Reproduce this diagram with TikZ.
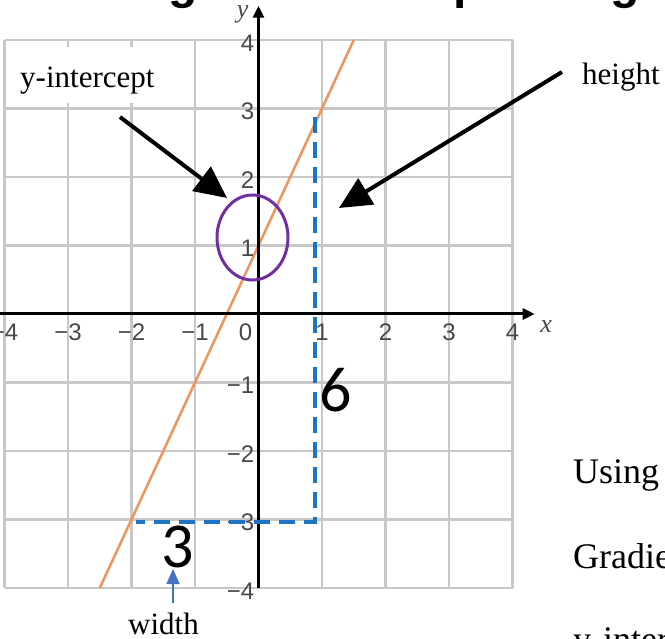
\documentclass[tikz,border=0pt]{standalone}
\usepackage{fontspec}
\setmainfont{Liberation Serif}
\newfontfamily\lsans{Liberation Sans}
\newfontfamily\carl{Carlito}
\usetikzlibrary{arrows.meta,shapes.geometric}
\definecolor{gridgray}{RGB}{200,200,200}
\definecolor{ticklab}{RGB}{72,72,72}
\definecolor{lineorange}{RGB}{238,150,90}
\definecolor{dashblue}{RGB}{30,115,195}
\definecolor{circpurple}{RGB}{112,48,160}
\definecolor{arrowblue}{RGB}{68,114,196}
\tikzset{
  ticklabel/.style={text=ticklab, font=\lsans\fontsize{24}{24}\selectfont, inner sep=0pt},
  axlabel/.style={text=ticklab, font=\itshape\fontsize{26}{26}\selectfont, inner sep=0pt},
  lbl/.style={font=\fontsize{31}{36}\selectfont, inner sep=0pt},
  rtext/.style={font=\fontsize{36}{40}\selectfont, inner sep=0pt, anchor=base west},
  bigdig/.style={font=\carl\fontsize{64}{64}\selectfont, inner sep=0pt},
  bigarrow/.style={line width=4pt, -{Triangle[length=32pt,width=30pt]}},
  dashline/.style={dashblue, line width=4pt, dash pattern=on 16pt off 9pt},
  gridline/.style={gridgray, line width=2.5pt},
}
\begin{document}
\begin{tikzpicture}[x=1pt,y=-1pt]
\useasboundingbox (0,0) rectangle (665,639);
\clip (0,0) rectangle (665,639);
\fill[white] (0,0) rectangle (665,639);
% title (cut off at top)
\node[anchor=base west, font=\lsans\bfseries\fontsize{48}{50}\selectfont, inner sep=0pt] (title) at (24,-1) {Finding the intercept and gradient};
% graph
\begin{scope}[shift={(258.5,314)},x=63.5pt,y=68.5pt]
  \foreach \k in {-4,...,4} {
    \draw[gridline] (\k,-4) -- (\k,4);
    \draw[gridline] (-4,\k) -- (4,\k);
  }
  \draw[lineorange, line width=2.5pt] (-2.5,-4) -- (1.5,4);
  \draw[line width=3pt, -{Triangle[length=12pt,width=11pt]}] (-4.1,0) -- (4.35,0);
  \draw[line width=3pt, -{Triangle[length=12pt,width=11pt]}] (0,-4) -- (0,4.5);
  \foreach \k/\t [count=\i] in {4/4,3/3,2/2,1/1,-1/−1,-2/−2,-3/−3,-4/−4}
    \node[ticklabel, anchor=east, xshift=-4pt, yshift=-3pt] (yl\i) at (0,\k) {\t};
  \foreach \k/\t [count=\i] in {-4/−4,-3/−3,-2/−2,-1/−1,1/1,2/2,3/3,4/4}
    \node[ticklabel, anchor=north, yshift=-10pt] (xl\i) at (\k,0) {\t};
  \node[ticklabel, anchor=north east, xshift=-6pt, yshift=-10pt] (xlzero) at (0,0) {0};
  \node[axlabel] (xname) at (4.53,-0.18) {x};
  \node[axlabel] (yname) at (-0.25,4.38) {y};
\end{scope}
% dashed rise/run
\coordinate (dtop) at (315,117);
\coordinate (dcorner) at (315,522);
\coordinate (dleft) at (136,522);
\draw[dashline] (dtop) -- (dcorner) -- (dleft);
% y-intercept circle
\node[draw=circpurple, line width=3pt, ellipse, minimum width=71pt, minimum height=85pt, inner sep=0pt] (yint) at (252.5,237.5) {};
% big numbers
\node[bigdig] (six) at (336,390) {6};
\node[bigdig] (three) at (178,547) {3};
% label boxes and texts
\node[fill=white, inner sep=0pt, minimum width=185pt, minimum height=56pt, anchor=north west] (ybox) at (8,47) {};
\node[lbl, anchor=base west] (ytext) at (20,88) {y-intercept};
\node[lbl, anchor=base west] (htext) at (582,85) {height};
\node[lbl, anchor=base west] (wtext) at (128,634) {width};
% arrows
\coordinate (a1s) at (120,117);
\coordinate (a1e) at (227,198);
\draw[bigarrow] (a1s) -- (a1e);
\coordinate (a2s) at (562,72);
\coordinate (a2e) at (339,208);
\draw[bigarrow] (a2s) -- (a2e);
\coordinate (wbot) at (173,603);
\coordinate (wtip) at (173,569);
\draw[arrowblue, line width=1.5pt, -{Triangle[length=15pt,width=13pt]}] (wbot) -- (wtip);
% right-hand text
\node[rtext] (using) at (573,483) {Using};
\node[rtext] (gradt) at (573,568) {Gradient};
\node[rtext] (yintt) at (573,651) {y-intercept};
\end{tikzpicture}
\end{document}
